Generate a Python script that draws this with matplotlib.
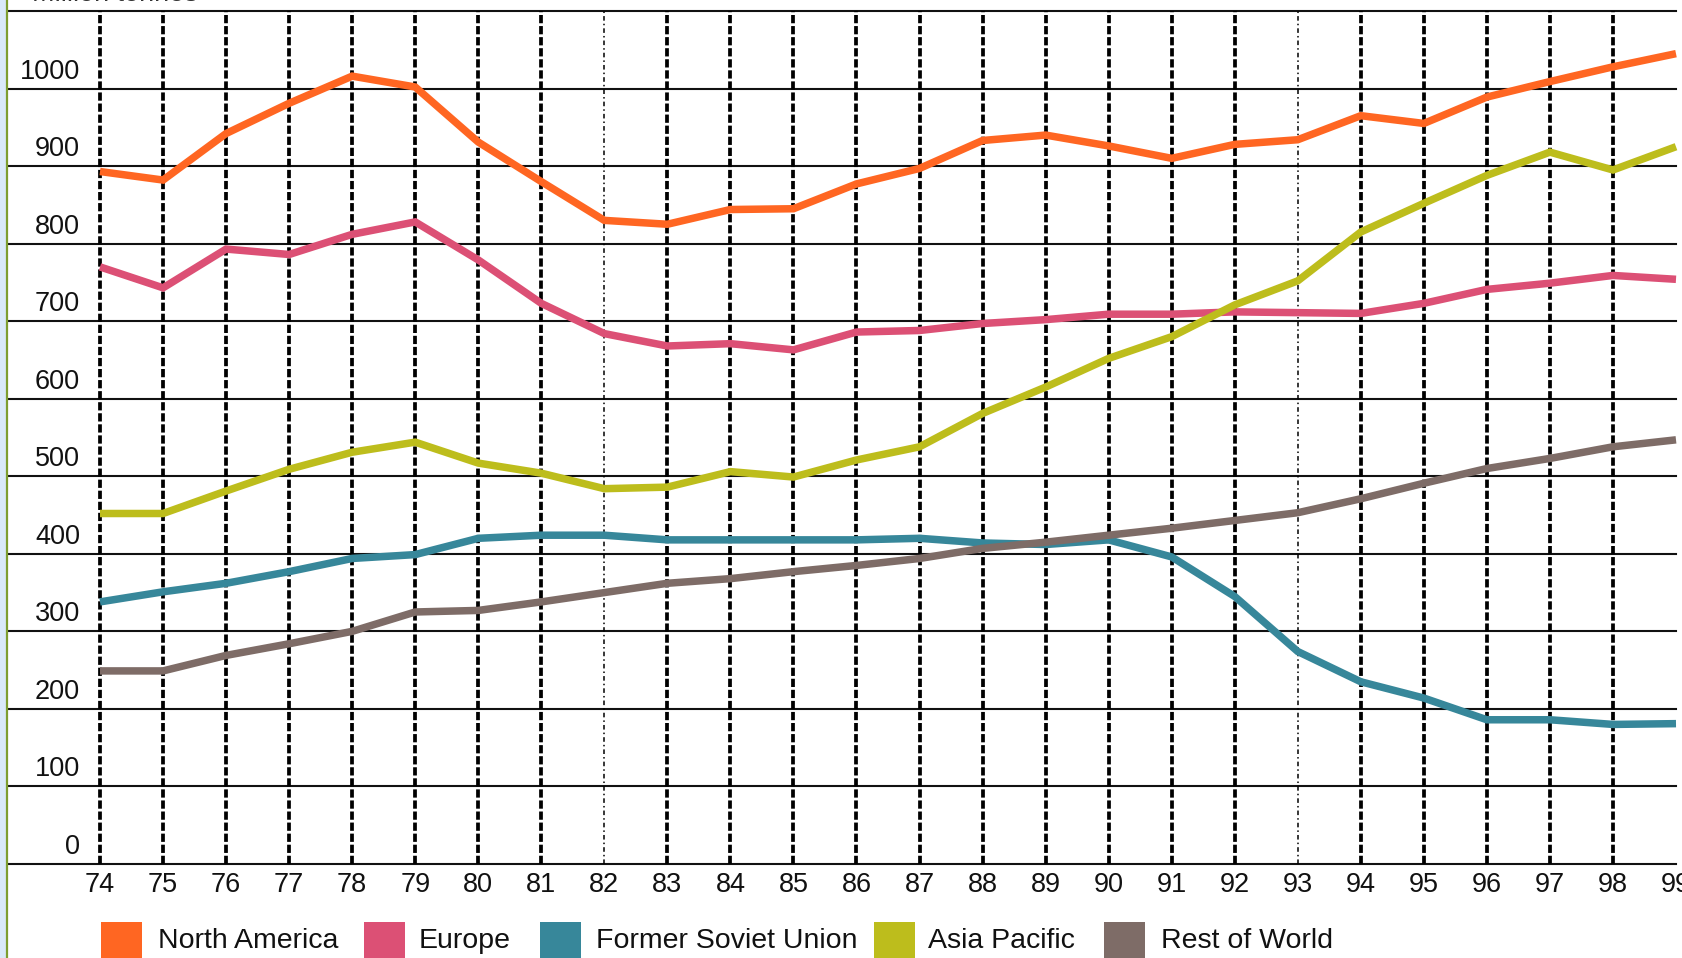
import matplotlib
matplotlib.use('Agg')
import matplotlib.pyplot as plt
from matplotlib import transforms
from matplotlib.patches import Rectangle
from matplotlib.lines import Line2D

plt.rcParams['font.family'] = ['Liberation Sans', 'DejaVu Sans']

# Oil consumption by region, million tonnes
years = list(range(74, 100))
year_labels = [f"{y}" for y in years]

north_america = [893, 882, 942, 981, 1016, 1002, 931, 880, 830, 825, 844, 845, 877,
                 897, 933, 940, 926, 910, 928, 934, 965, 955, 989, 1009, 1028, 1045]
europe = [770, 743, 793, 786, 812, 828, 779, 723, 684, 668, 671, 663, 686,
          688, 697, 702, 709, 709, 712, 711, 710, 723, 741, 749, 759, 754]
former_soviet_union = [338, 351, 362, 377, 394, 399, 420, 424, 424, 418, 418, 418, 418,
                       420, 414, 412, 418, 396, 345, 274, 235, 214, 186, 186, 180, 181]
asia_pacific = [452, 452, 481, 509, 531, 544, 517, 504, 484, 486, 506, 499, 521,
                538, 581, 615, 652, 680, 721, 752, 815, 852, 888, 918, 895, 925]
rest_of_world = [249, 249, 269, 284, 300, 325, 327, 338, 350, 362, 368, 377, 385,
                 394, 407, 415, 424, 433, 443, 453, 471, 491, 510, 523, 538, 547]

series_names = ["North America", "Europe", "Former Soviet Union", "Asia Pacific", "Rest of World"]
series_values = [north_america, europe, former_soviet_union, asia_pacific, rest_of_world]
series_colors = ["#FF6622", "#DC5075", "#37879A", "#BDBD1C", "#7E6C67"]

y_ticks = list(range(0, 1001, 100))
y_top = 1100

W, H = 1682, 958
fig = plt.figure(figsize=(W / 100, H / 100), dpi=100)
fig.patch.set_facecolor('white')

# light strip and green rule down the left edge
fig.patches.append(Rectangle((0, 0), 6 / W, 1, transform=fig.transFigure,
                             facecolor='#D9E9F9', edgecolor='none', zorder=0))
fig.lines.append(Line2D([7 / W, 7 / W], [0, 1], transform=fig.transFigure,
                        color='#7E9E30', lw=1.6))

ax = fig.add_axes([8 / W, (H - 864) / H, (1676 - 8) / W, (864 - 11) / H])
ax.set_xlim(74 - 92 / 63.04, 99)
ax.set_ylim(0, y_top)
for s in ax.spines.values():
    s.set_visible(False)

# solid horizontal grid, including the top frame line
for v in y_ticks + [y_top]:
    ax.axhline(v, color='#111111', lw=1.5, zorder=1, clip_on=False)

# dashed vertical grid at each year
for y in years[:-1]:
    thin = y in (82, 93)
    ax.axvline(y, color='black', lw=1.1 if thin else 2.7,
               linestyle=(0, (3, 2, 1, 2)) if thin else (0, (2.2, 0.75)), zorder=1)

for name, vals, col in zip(series_names, series_values, series_colors):
    ax.plot(years, vals, color=col, lw=5.4, solid_joinstyle='miter',
            solid_capstyle='butt', zorder=3, clip_on=False, label=name)

ax.set_xticks(years)
ax.set_xticklabels(year_labels)
ax.set_yticks([])
ax.tick_params(axis='x', length=0, pad=6, labelsize=19.5, colors='#111111')

# y labels sit just above their grid lines
ylab_trans = transforms.offset_copy(
    transforms.blended_transform_factory(ax.transAxes, ax.transData),
    fig=fig, x=0, y=10, units='dots')
for v in y_ticks:
    ax.text(72 / (1676 - 8), v, f"{v}", transform=ylab_trans, ha='right',
            va='baseline', fontsize=19.5, color='#111111')

fig.text(32 / W, (H - 1) / H, "Million tonnes", ha='left', va='baseline',
         fontsize=19.5, color='#333333')

# legend row along the bottom edge
sq_x = [101, 364, 540, 874, 1104]
txt_x = [158, 419, 596, 928, 1161]
for sx, tx, name, col in zip(sq_x, txt_x, series_names, series_colors):
    fig.patches.append(Rectangle((sx / W, (H - 963) / H), 41 / W, 41 / H,
                                 transform=fig.transFigure, facecolor=col,
                                 edgecolor='none'))
    fig.text(tx / W, (H - 948) / H, name, ha='left', va='baseline',
             fontsize=20.5, color='#111111')

fig.savefig('out.png', dpi=100)
